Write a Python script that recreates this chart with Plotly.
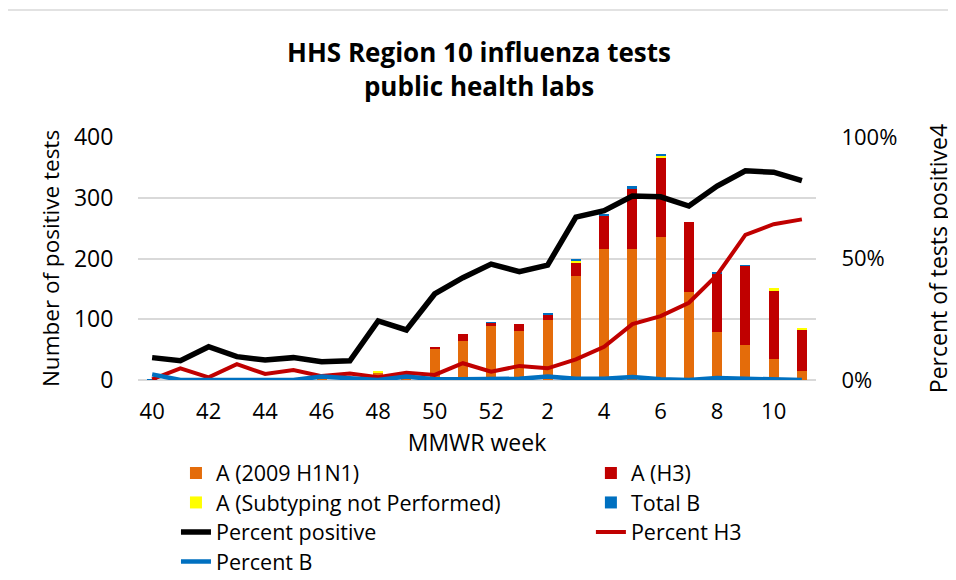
import plotly.graph_objs as go

# MMWR weeks (season 40 -> 11)
weeks = ['40', '41', '42', '43', '44', '45', '46', '47', '48', '49', '50', '51', '52',
         '1', '2', '3', '4', '5', '6', '7', '8', '9', '10', '11']
tick_weeks = ['40', '42', '44', '46', '48', '50', '52', '2', '4', '6', '8', '10']

# Positive test counts
h1n1 = [0, 1, 2, 0, 1, 0, 1, 0, 13, 2, 52, 64, 89, 81, 98, 172, 216, 216, 236, 145, 79, 57, 35, 15]
h3 = [0, 0, 0, 2, 0, 1, 0, 1, 0, 1, 1, 11, 5, 12, 9, 22, 54, 98, 130, 115, 97, 131, 113, 67]
not_subtyped = [0, 0, 0, 0, 0, 0, 0, 0, 2, 0, 0, 0, 0, 0, 0, 3, 0, 0, 3, 0, 0, 0, 3, 4]
total_b = [1, 0, 0, 0, 0, 0, 0, 0, 0, 1, 0, 0, 1, 0, 4, 3, 2, 5, 2, 0, 1, 1, 0, 0]

# Percentages
pct_positive = [9.2, 7.9, 13.7, 9.6, 8.2, 9.2, 7.5, 7.9, 24.3, 20.6, 35.4, 42.1, 47.7,
                44.6, 47.3, 67.0, 69.7, 75.7, 75.4, 71.6, 79.8, 86.1, 85.5, 82.0]
pct_h3 = [0.3, 4.8, 1.1, 6.5, 2.5, 4.1, 1.6, 2.7, 1.1, 3.0, 2.1, 6.9, 3.4,
          5.8, 4.8, 8.5, 13.7, 23.0, 26.3, 31.8, 43.2, 59.7, 64.1, 66.1]
pct_b = [2.3, 0, 0, 0, 0, 0, 1.4, 0.5, 0, 1.4, 0.3, 0.3, 0.5,
         0.5, 1.4, 0.5, 0.5, 1.2, 0.3, 0, 0.8, 0.5, 0, 0]

FONT = 'Open Sans'

fig = go.Figure()

# each legend entry gets its own legend box so it can sit in the Excel-like 2-column grid
bars = [
    ('A (2009 H1N1)', h1n1, '#E46C0A', 'legend'),
    ('A (H3)', h3, '#C00000', 'legend2'),
    ('A (Subtyping not Performed)', not_subtyped, '#FFFF00', 'legend3'),
    ('Total B', total_b, '#0070C0', 'legend4'),
]
for name, vals, color, leg in bars:
    fig.add_trace(go.Bar(x=weeks, y=vals, name=name, marker=dict(color=color, line_width=0),
                         legend=leg))

lines = [
    ('Percent positive', pct_positive, '#000000', 5.5, 'legend5'),
    ('Percent H3', pct_h3, '#C00000', 4, 'legend6'),
    ('Percent B', pct_b, '#0070C0', 4.5, 'legend7'),
]
for name, vals, color, w, leg in lines:
    fig.add_trace(go.Scatter(x=weeks, y=vals, name=name, mode='lines', yaxis='y2',
                             line=dict(color=color, width=w), legend=leg))

col_x = [0.056, 0.668]
row_y = [-0.383, -0.504, -0.626, -0.747]
leg_pos = {
    'legend': (col_x[0], row_y[0]), 'legend2': (col_x[1], row_y[0]),
    'legend3': (col_x[0], row_y[1]), 'legend4': (col_x[1], row_y[1]),
    'legend5': (col_x[0], row_y[2]), 'legend6': (col_x[1], row_y[2]),
    'legend7': (col_x[0], row_y[3]),
}
legends = {}
for key, (lx, ly) in leg_pos.items():
    legends[key] = dict(x=lx, xanchor='left', y=ly, yanchor='middle',
                        font=dict(family=FONT, size=21.5, color='#000000'),
                        bgcolor='rgba(0,0,0,0)')

# page body adds an 8px offset, margins compensate for it
fig.update_layout(
    width=956, height=580,
    margin=dict(l=130, r=148, t=129, b=208, autoexpand=False),
    paper_bgcolor='white', plot_bgcolor='white',
    font=dict(family=FONT, size=21, color='#000000'),
    title=dict(text='<b>HHS Region 10 influenza tests<br>public health labs</b>',
               x=0.4927, xanchor='center', y=0.907, yanchor='top',
               font=dict(family=FONT, size=26, color='#000000')),
    barmode='stack', bargap=0.646,
    showlegend=True,
    **legends,
    xaxis=dict(type='category', tickvals=tick_weeks, ticktext=tick_weeks,
               ticks='outside', ticklen=12, tickcolor='rgba(0,0,0,0)',
               showgrid=False, showline=False, automargin=False,
               title=dict(text='MMWR week', standoff=10, font=dict(size=23)),
               tickfont=dict(size=22)),
    yaxis=dict(range=[0, 400], dtick=100, showgrid=True, gridcolor='#D9D9D9', gridwidth=1.5,
               zeroline=True, zerolinecolor='#D9D9D9', zerolinewidth=1.5,
               ticks='outside', ticklen=19, tickcolor='rgba(0,0,0,0)', automargin=False,
               title=dict(text='Number of positive tests', standoff=8, font=dict(size=22.5)),
               tickfont=dict(size=23)),
    yaxis2=dict(range=[0, 100], dtick=50, ticksuffix='%', overlaying='y', side='right',
                showgrid=False, zeroline=False, automargin=False,
                ticks='outside', ticklen=20, tickcolor='rgba(0,0,0,0)',
                title=dict(text='Percent of tests positive4', standoff=34, font=dict(size=23)),
                tickfont=dict(size=22)),
)

# light chart-area border (top and left edges visible)
fig.add_shape(type='rect', xref='paper', yref='paper',
              x0=(5 - 138) / 678, x1=(990 - 138) / 678,
              y0=(380 - 600) / 243, y1=(380 - 10) / 243,
              line=dict(color='#D9D9D9', width=1.5), layer='below')

fig.write_html('out.html')
